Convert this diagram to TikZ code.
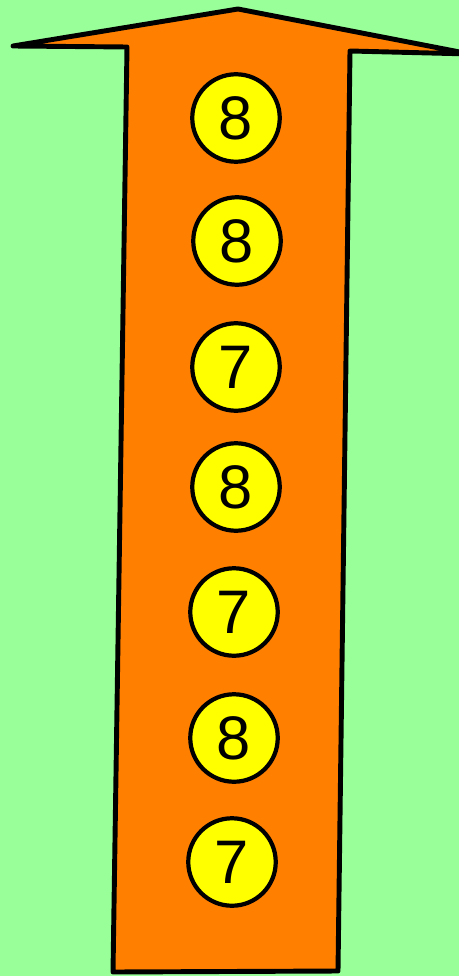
\documentclass[tikz,border=0pt]{standalone}
\usepackage{fontspec}
\setsansfont{Liberation Sans}
\definecolor{bggreen}{HTML}{99FF99}
\definecolor{arroworange}{HTML}{FF8000}
\definecolor{ballyellow}{HTML}{FFFF00}
\begin{document}
\begin{tikzpicture}[x=0.02cm,y=-0.02cm,line join=round,
		ball/.style={circle,draw=black,line width=2.4pt,fill=ballyellow,minimum size=1.75cm,inner sep=0pt,font=\sffamily\fontsize{35}{35}\selectfont}]
	\fill[bggreen] (0,0) rectangle (459,976);
	\useasboundingbox (0,0) rectangle (459,976);
	\begin{scope}
		\clip (0,0) rectangle (459,976);
		\draw[line width=2.8pt,fill=arroworange] (113,972)--(127,47)--(13,46)--(238,9)--(470,54)--(350,51)--(338,971)--cycle;
	\end{scope}
	\node[ball] (n1) at (236,118) {8};
	\node[ball] (n2) at (237,241) {8};
	\node[ball] (n3) at (236,367) {7};
	\node[ball] (n4) at (236,487) {8};
	\node[ball] (n5) at (234,612) {7};
	\node[ball] (n6) at (234,738) {8};
	\node[ball] (n7) at (232,862) {7};
\end{tikzpicture}
\end{document}
